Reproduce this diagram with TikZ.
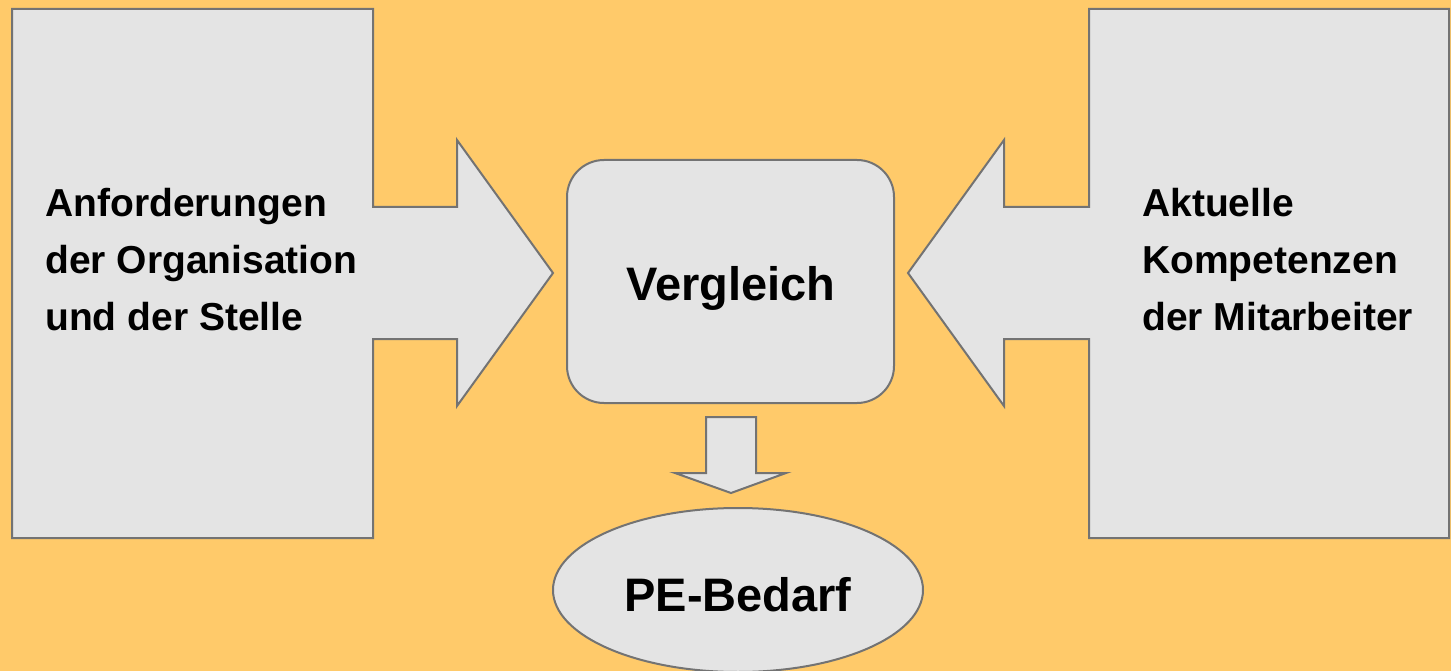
\documentclass[tikz,border=0pt]{standalone}
\usepackage{fontspec}
\setmainfont{Liberation Sans}
\usetikzlibrary{shapes.geometric}
\definecolor{bgc}{HTML}{FFCA6A}
\definecolor{boxc}{HTML}{E4E4E4}
\definecolor{linec}{HTML}{737373}
\begin{document}
\begin{tikzpicture}[x=1pt,y=-1pt,
  shapestyle/.style={fill=boxc,draw=linec,line width=2pt,line join=miter},
  sidetext/.style={align=left,inner sep=0pt,font=\fontsize{39}{57}\selectfont\bfseries},
  maintext/.style={inner sep=0pt,font=\fontsize{47}{56}\selectfont\bfseries}]
\fill[bgc] (0,0) rectangle (1451,671);
\useasboundingbox (0,0) rectangle (1451,671);
% left block with arrow
\draw[shapestyle] (12,9) -- (373,9) -- (373,207) -- (457,207) -- (457,140) -- (553,273)
  -- (457,406) -- (457,339) -- (373,339) -- (373,538) -- (12,538) -- cycle;
% right block with arrow
\draw[shapestyle] (1449,9) -- (1089,9) -- (1089,207) -- (1004,207) -- (1004,140) -- (908,273)
  -- (1004,406) -- (1004,339) -- (1089,339) -- (1089,538) -- (1449,538) -- cycle;
% centre box
\node[shapestyle,rounded corners=37pt,minimum width=327pt,minimum height=243pt,inner sep=0pt]
  (vgl) at (730.5,281.5) {};
\node[maintext] (vgltext) at (731,288) {Vergleich};
% ellipse
\node[shapestyle,ellipse,minimum width=370pt,minimum height=164pt,inner sep=0pt]
  (pe) at (738,590) {};
\node[maintext] (petext) at (738,595) {PE-Bedarf};
% down arrow
\draw[shapestyle] (706,417) -- (756,417) -- (756,473) -- (786,473) -- (731,493) -- (675,473)
  -- (706,473) -- cycle;
% texts
\node[sidetext,anchor=west] (lt) at (45,260) {Anforderungen\\der Organisation\\und der Stelle};
\node[sidetext,anchor=west] (rt) at (1142,260) {Aktuelle\\Kompetenzen\\der Mitarbeiter};
\end{tikzpicture}
\end{document}
